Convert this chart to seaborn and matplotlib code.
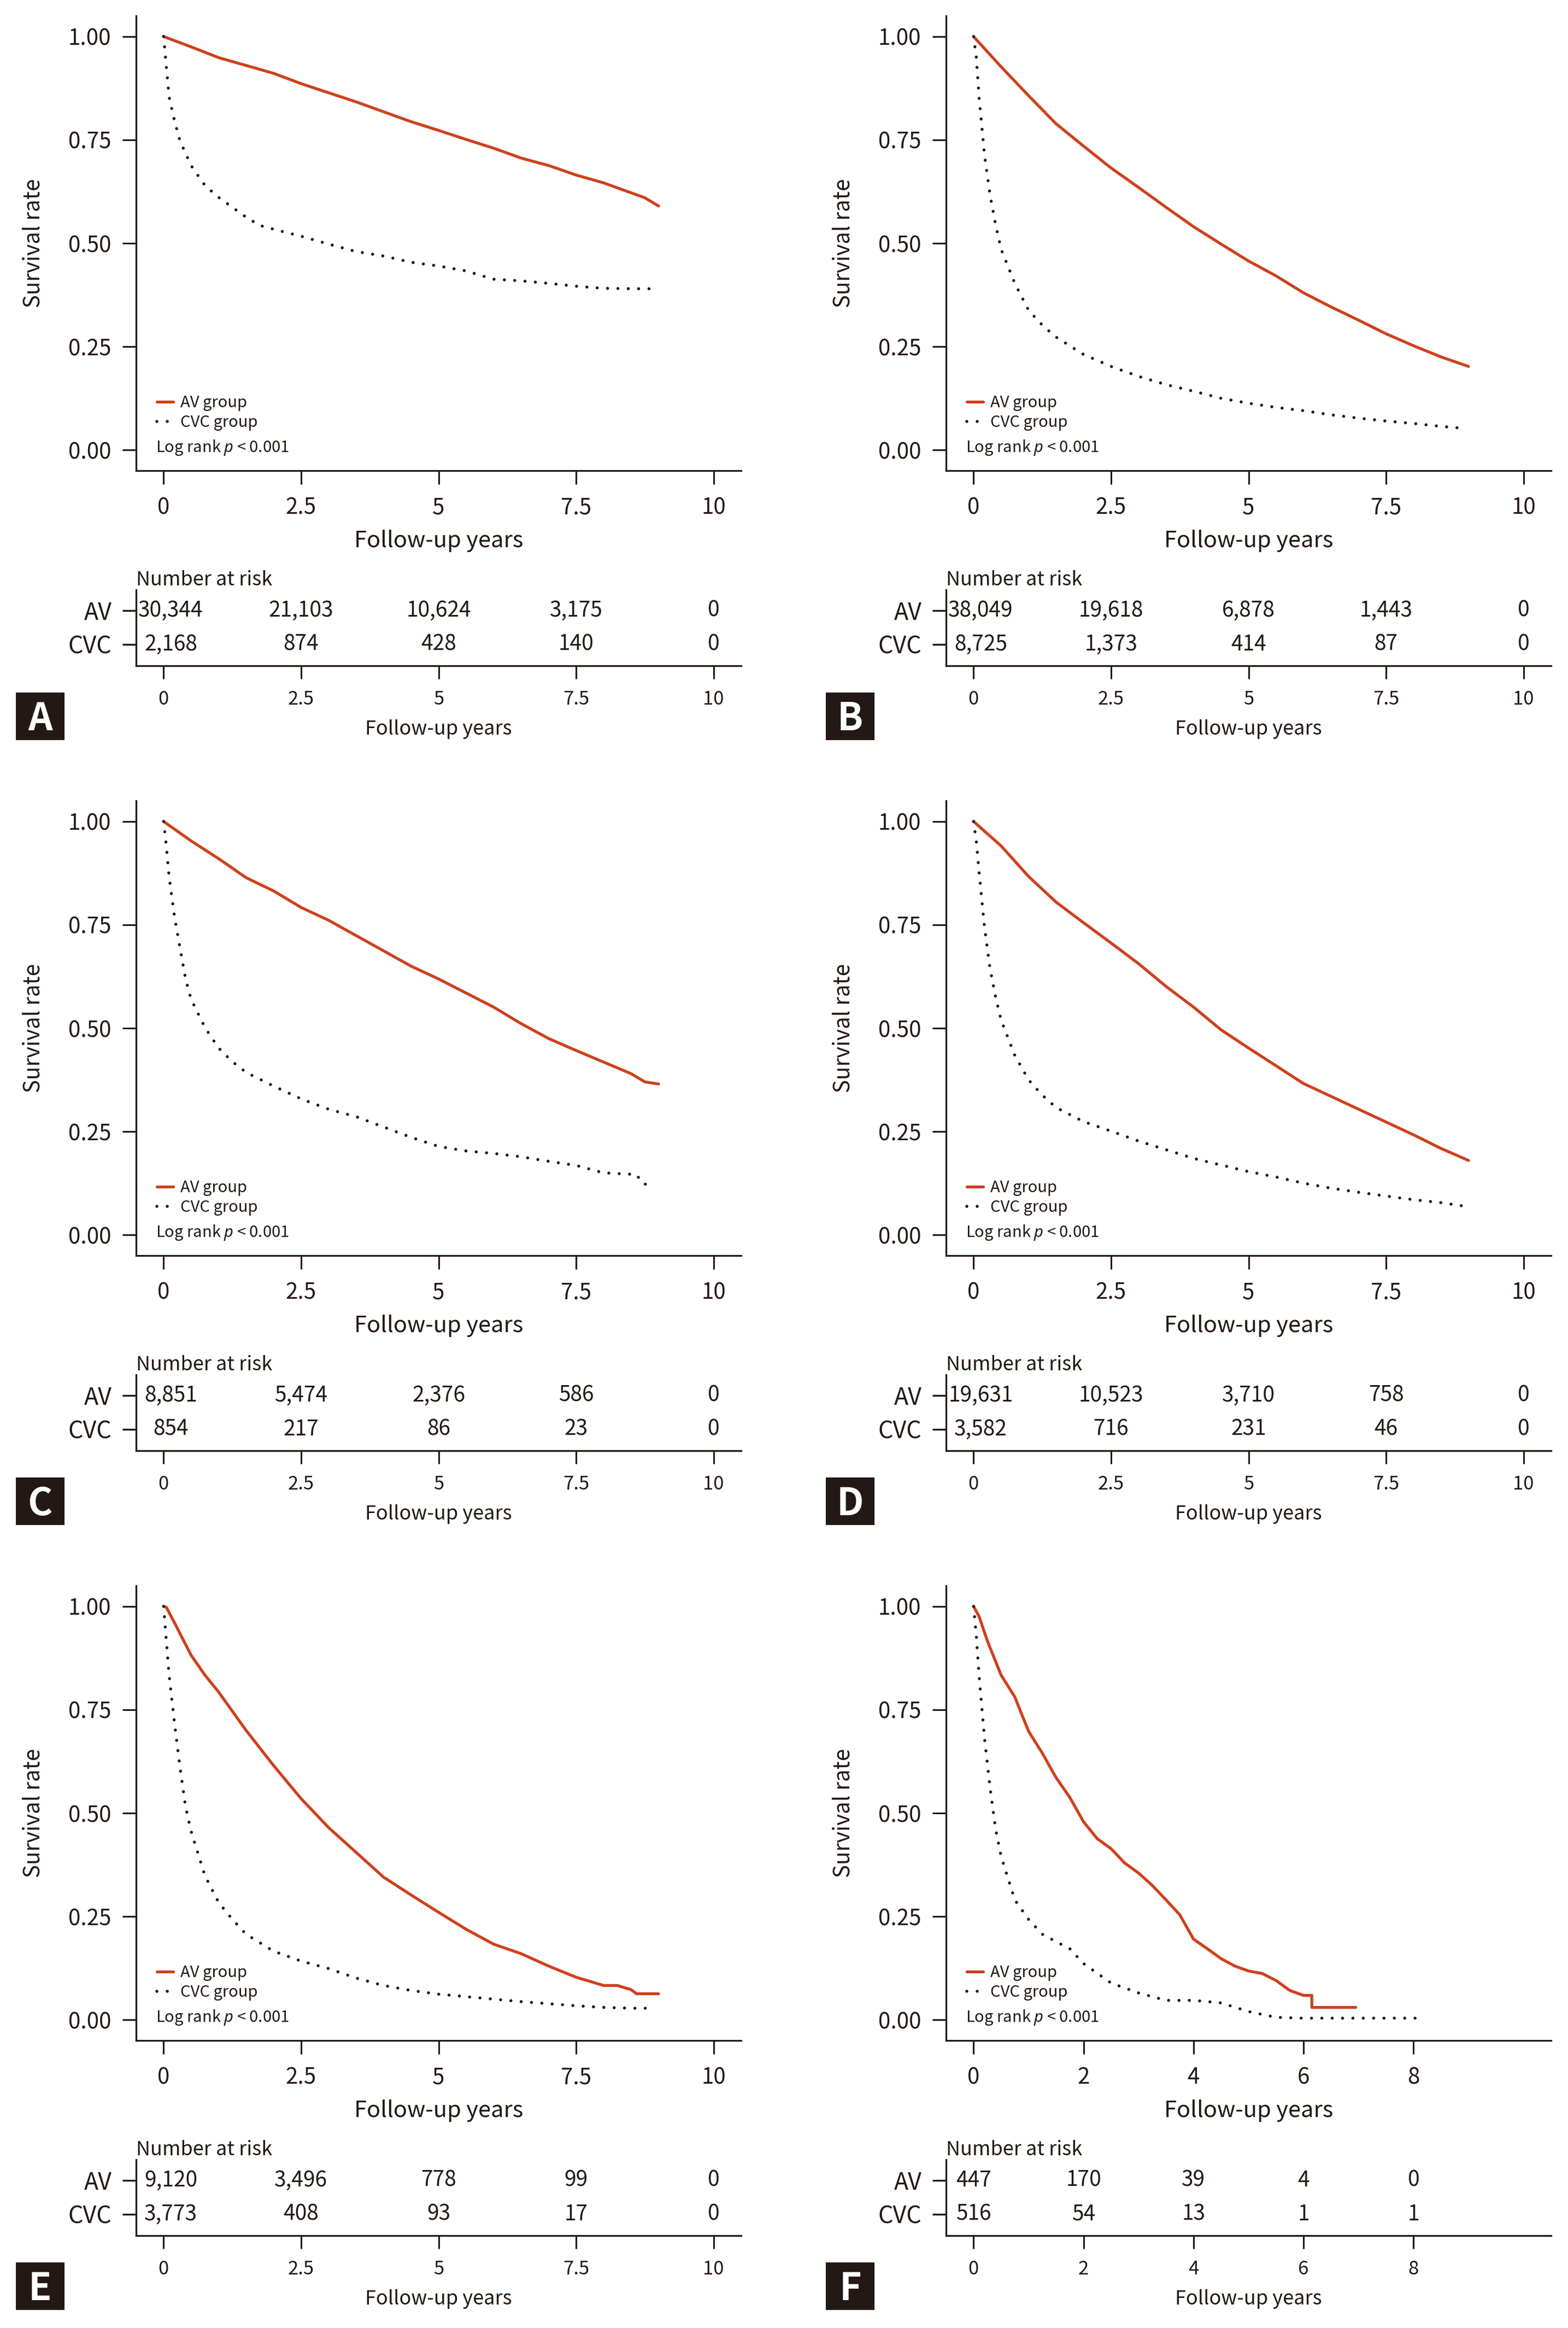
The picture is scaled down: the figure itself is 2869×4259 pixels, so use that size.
import numpy as np
import pandas as pd
import matplotlib
matplotlib.use('Agg')
import matplotlib.pyplot as plt
import seaborn as sns

sns.set_theme(style='ticks')
plt.rcParams['font.family'] = ['Noto Sans CJK KR', 'DejaVu Sans']
plt.rcParams['mathtext.fontset'] = 'custom'
plt.rcParams['mathtext.rm'] = 'Noto Sans CJK KR'
plt.rcParams['mathtext.it'] = 'Noto Sans:italic'
INK = '#231815'
RED = '#CE401D'
for k in ['text.color', 'axes.labelcolor', 'xtick.color', 'ytick.color', 'axes.edgecolor']:
    plt.rcParams[k] = INK

# ---------------- data ----------------
panel_letters = ['A', 'B', 'C', 'D', 'E', 'F']
group_labels = ['AV group', 'CVC group']
risk_rows = ['AV', 'CVC']
ticks_std = [0, 2.5, 5, 7.5, 10]
ticks_f = [0, 2, 4, 6, 8]
tick_labels_std = ['0', '2.5', '5', '7.5', '10']
tick_labels_f = ['0', '2', '4', '6', '8']
y_ticks = [0, 0.25, 0.5, 0.75, 1.0]
y_tick_labels = ['0.00', '0.25', '0.50', '0.75', '1.00']

a_av_t = [0, 0.5, 1, 1.5, 2, 2.5, 3, 3.5, 4, 4.5, 5, 5.5, 6, 6.5, 7, 7.5, 8, 8.5, 8.75, 9]
a_av_s = [1.0, 0.975, 0.949, 0.93, 0.911, 0.886, 0.864, 0.842, 0.818, 0.794, 0.773, 0.751, 0.73, 0.706,
          0.688, 0.665, 0.646, 0.622, 0.61, 0.59]
a_cvc_t = [0, 0.1, 0.2, 0.3, 0.5, 0.75, 1, 1.25, 1.5, 1.75, 2, 2.5, 3, 3.5, 4, 4.5, 5, 5.5, 6, 6.5, 7,
           7.5, 8, 8.5, 8.92]
a_cvc_s = [1.0, 0.854, 0.795, 0.747, 0.688, 0.64, 0.611, 0.587, 0.563, 0.543, 0.534, 0.517, 0.498, 0.48,
           0.469, 0.454, 0.445, 0.433, 0.413, 0.409, 0.403, 0.396, 0.391, 0.39, 0.39]

b_av_t = [0, 0.5, 1, 1.5, 2, 2.5, 3, 3.5, 4, 4.5, 5, 5.5, 6, 6.5, 7, 7.5, 8, 8.5, 9]
b_av_s = [1.0, 0.927, 0.857, 0.789, 0.735, 0.682, 0.635, 0.587, 0.54, 0.498, 0.457, 0.421, 0.38, 0.346,
          0.314, 0.281, 0.252, 0.225, 0.202]
b_cvc_t = [0, 0.05, 0.1, 0.2, 0.3, 0.4, 0.5, 0.75, 1, 1.25, 1.5, 2, 2.5, 3, 3.5, 4, 4.5, 5, 5.5, 6, 6.5,
           7, 7.5, 8, 8.5, 8.94]
b_cvc_s = [1.0, 0.95, 0.854, 0.712, 0.617, 0.546, 0.486, 0.403, 0.338, 0.302, 0.273, 0.231, 0.202, 0.178,
           0.158, 0.142, 0.125, 0.113, 0.103, 0.095, 0.085, 0.077, 0.07, 0.064, 0.057, 0.052]

c_av_t = [0, 0.5, 1, 1.5, 2, 2.5, 3, 3.5, 4, 4.5, 5, 5.5, 6, 6.5, 7, 7.5, 8, 8.5, 8.75, 9]
c_av_s = [1.0, 0.953, 0.91, 0.864, 0.832, 0.792, 0.761, 0.724, 0.687, 0.65, 0.619, 0.585, 0.551, 0.511,
          0.475, 0.446, 0.418, 0.39, 0.37, 0.365]
c_cvc_t = [0, 0.05, 0.1, 0.2, 0.3, 0.4, 0.5, 0.75, 1, 1.25, 1.5, 2, 2.5, 3, 3.5, 4, 4.5, 5, 5.5, 6, 6.5,
           7, 7.5, 8, 8.6, 8.7, 8.85]
c_cvc_s = [1.0, 0.94, 0.867, 0.768, 0.693, 0.619, 0.57, 0.502, 0.452, 0.419, 0.393, 0.36, 0.329, 0.304,
           0.286, 0.261, 0.236, 0.214, 0.203, 0.197, 0.189, 0.178, 0.168, 0.15, 0.146, 0.125, 0.119]

d_av_t = [0, 0.5, 1, 1.5, 2, 2.5, 3, 3.5, 4, 4.5, 5, 5.5, 6, 6.5, 7, 7.5, 8, 8.5, 9]
d_av_s = [1.0, 0.941, 0.867, 0.805, 0.755, 0.706, 0.656, 0.601, 0.551, 0.496, 0.452, 0.409, 0.366, 0.335,
          0.304, 0.273, 0.242, 0.209, 0.18]
d_cvc_t = [0, 0.05, 0.1, 0.2, 0.3, 0.4, 0.5, 0.75, 1, 1.25, 1.5, 2, 2.5, 3, 3.5, 4, 4.5, 5, 5.5, 6, 6.5,
           7, 7.5, 8, 8.5, 8.9]
d_cvc_s = [1.0, 0.953, 0.879, 0.743, 0.644, 0.576, 0.52, 0.434, 0.375, 0.338, 0.308, 0.274, 0.251, 0.227,
           0.206, 0.185, 0.169, 0.153, 0.14, 0.125, 0.113, 0.103, 0.094, 0.085, 0.078, 0.07]

e_av_t = [0, 0.05, 0.25, 0.5, 0.75, 1, 1.5, 2, 2.5, 3, 3.5, 4, 4.5, 5, 5.5, 6, 6.5, 7, 7.5, 8, 8.25, 8.5,
          8.6, 9]
e_av_s = [1.0, 0.998, 0.947, 0.882, 0.834, 0.793, 0.70, 0.615, 0.535, 0.465, 0.405, 0.345, 0.302, 0.26,
          0.219, 0.183, 0.16, 0.13, 0.103, 0.083, 0.083, 0.073, 0.063, 0.063]
e_cvc_t = [0, 0.05, 0.1, 0.2, 0.3, 0.4, 0.5, 0.75, 1, 1.25, 1.5, 2, 2.5, 3, 3.5, 4, 4.5, 5, 5.5, 6, 6.5,
           7, 7.5, 8, 8.5, 8.8]
e_cvc_s = [1.0, 0.917, 0.834, 0.716, 0.609, 0.515, 0.456, 0.349, 0.284, 0.243, 0.207, 0.166, 0.142, 0.124,
           0.101, 0.083, 0.071, 0.062, 0.056, 0.05, 0.044, 0.039, 0.034, 0.03, 0.028, 0.028]

f_av_t = [0, 0.1, 0.25, 0.5, 0.75, 1, 1.25, 1.5, 1.75, 2, 2.25, 2.5, 2.75, 3, 3.25, 3.5, 3.75, 4, 4.25,
          4.5, 4.75, 5, 5.25, 5.5, 5.75, 6, 6.15, 6.15, 6.95]
f_av_s = [1.0, 0.976, 0.917, 0.834, 0.781, 0.698, 0.645, 0.586, 0.538, 0.479, 0.438, 0.414, 0.379, 0.355,
          0.325, 0.29, 0.254, 0.195, 0.172, 0.148, 0.13, 0.118, 0.112, 0.095, 0.071, 0.059, 0.059, 0.03,
          0.03]
f_cvc_t = [0, 0.05, 0.1, 0.2, 0.3, 0.4, 0.5, 0.75, 1, 1.25, 1.5, 1.75, 2, 2.5, 3, 3.5, 4, 4.5, 5, 5.5, 6,
           8.2]
f_cvc_s = [1.0, 0.929, 0.834, 0.68, 0.562, 0.462, 0.396, 0.29, 0.243, 0.207, 0.189, 0.172, 0.136, 0.089,
           0.065, 0.047, 0.047, 0.041, 0.02, 0.006, 0.004, 0.004]

a_risk_av = [30344, 21103, 10624, 3175, 0]
a_risk_cvc = [2168, 874, 428, 140, 0]
b_risk_av = [38049, 19618, 6878, 1443, 0]
b_risk_cvc = [8725, 1373, 414, 87, 0]
c_risk_av = [8851, 5474, 2376, 586, 0]
c_risk_cvc = [854, 217, 86, 23, 0]
d_risk_av = [19631, 10523, 3710, 758, 0]
d_risk_cvc = [3582, 716, 231, 46, 0]
e_risk_av = [9120, 3496, 778, 99, 0]
e_risk_cvc = [3773, 408, 93, 17, 0]
f_risk_av = [447, 170, 39, 4, 0]
f_risk_cvc = [516, 54, 13, 1, 1]

panels = [
    (a_av_t, a_av_s, a_cvc_t, a_cvc_s, a_risk_av, a_risk_cvc, ticks_std, tick_labels_std),
    (b_av_t, b_av_s, b_cvc_t, b_cvc_s, b_risk_av, b_risk_cvc, ticks_std, tick_labels_std),
    (c_av_t, c_av_s, c_cvc_t, c_cvc_s, c_risk_av, c_risk_cvc, ticks_std, tick_labels_std),
    (d_av_t, d_av_s, d_cvc_t, d_cvc_s, d_risk_av, d_risk_cvc, ticks_std, tick_labels_std),
    (e_av_t, e_av_s, e_cvc_t, e_cvc_s, e_risk_av, e_risk_cvc, ticks_std, tick_labels_std),
    (f_av_t, f_av_s, f_cvc_t, f_cvc_s, f_risk_av, f_risk_cvc, ticks_f, tick_labels_f),
]

# ---------------- layout ----------------
W, H = 2869, 4259
fig = plt.figure(figsize=(W / 100, H / 100), dpi=100)
fig.patch.set_facecolor('white')
col_x = [249, 1731]
row_y = [0, 1436, 2872]
AXW = 1107
first_shift = [0.13, 0.13, 0.13, 0.13, 0.13, 0.0]


def rect(x0, y0, x1, y1):
    return [x0 / W, 1 - y1 / H, (x1 - x0) / W, (y1 - y0) / H]


for i, (avt, avs, cvt, cvs, rav, rcv, xt, xtl) in enumerate(panels):
    cx = col_x[i % 2]
    ry = row_y[i // 2]

    # ---- survival axes ----
    ax = fig.add_axes(rect(cx, ry + 29, cx + AXW, ry + 861))
    sns.lineplot(x=avt, y=avs, ax=ax, color=RED, linewidth=3.8, label=group_labels[0],
                 estimator=None, sort=False, solid_capstyle='round')
    sns.lineplot(x=cvt, y=cvs, ax=ax, color=INK, linewidth=4.0, label=group_labels[1],
                 estimator=None, sort=False, linestyle=(0, (0.01, 3.4)), dash_capstyle='round')
    ax.set_xlim(-0.5, 10.5)
    ax.set_ylim(-0.05, 1.05)
    ax.set_xticks(xt)
    ax.set_xticklabels(xtl)
    ax.set_yticks(y_ticks)
    ax.set_yticklabels(y_tick_labels)
    ax.tick_params(axis='x', length=18, width=2.2, pad=16, labelsize=29)
    ax.tick_params(axis='y', length=18, width=2.2, pad=15, labelsize=29)
    for s in ['top', 'right']:
        ax.spines[s].set_visible(False)
    for s in ['left', 'bottom']:
        ax.spines[s].set_linewidth(2.3)
    ax.set_xlabel('Follow-up years', fontsize=30, labelpad=14)
    ax.set_ylabel('Survival rate', fontsize=29)
    ax.yaxis.set_label_coords(-0.151, 0.5)
    ax.legend(loc='center left', bbox_to_anchor=(0.034, 0.127), frameon=False, fontsize=21,
              handlelength=1.05, handletextpad=0.45, labelspacing=0.2, borderpad=0, borderaxespad=0)
    ax.text(0.0325, 0.041, r'Log rank $p$ < 0.001', transform=ax.transAxes, fontsize=21,
            va='baseline', ha='left')

    # ---- risk table axes ----
    rx = fig.add_axes(rect(cx, ry + 1079, cx + AXW, ry + 1218))
    rx.set_xlim(-0.5, 10.5)
    rx.set_ylim(-0.63, 1.61)
    rx.set_xticks(xt)
    rx.set_xticklabels(xtl)
    rx.set_yticks([1, 0])
    rx.set_yticklabels(risk_rows)
    rx.tick_params(axis='x', length=17, width=2.2, pad=15, labelsize=25)
    rx.tick_params(axis='y', length=18, width=2.4, pad=14, labelsize=31)
    for s in ['top', 'right']:
        rx.spines[s].set_visible(False)
    for s in ['left', 'bottom']:
        rx.spines[s].set_linewidth(2.3)
    for j, x in enumerate(xt):
        dx = first_shift[i] if j == 0 else 0
        rx.text(x + dx, 1, f'{rav[j]:,}', ha='center', va='center', fontsize=28)
        rx.text(x + dx, 0, f'{rcv[j]:,}', ha='center', va='center', fontsize=28)
    rx.set_xlabel('Follow-up years', fontsize=26, labelpad=13)
    rx.set_title('Number at risk', loc='left', fontsize=26, pad=3)

    # ---- panel letter ----
    lx = fig.add_axes(rect(cx - 220, ry + 1267, cx - 131, ry + 1354))
    lx.set_facecolor(INK)
    lx.set_xticks([])
    lx.set_yticks([])
    for s in lx.spines.values():
        s.set_visible(False)
    lx.text(0.5, 0.207, panel_letters[i], color='white', fontsize=50, fontweight='bold',
            ha='center', va='baseline', transform=lx.transAxes)

fig.savefig('out.png', dpi=100, facecolor='white')
